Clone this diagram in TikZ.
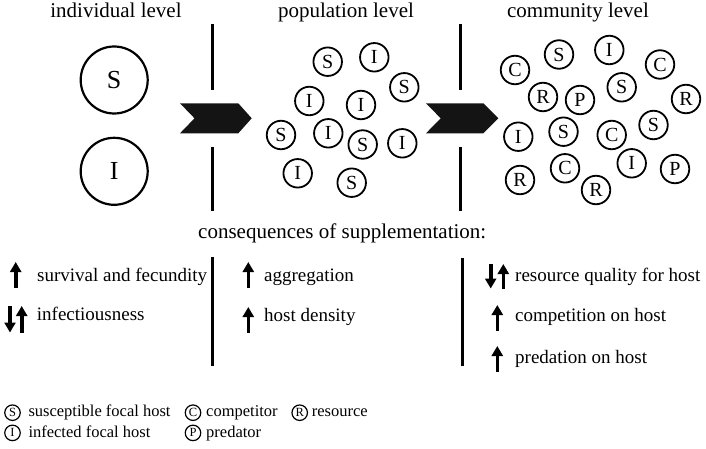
\documentclass[tikz,border=0pt]{standalone}
\usepackage{fontspec}
\setmainfont{Liberation Serif}
\usetikzlibrary{arrows.meta}
\begin{document}
\begin{tikzpicture}[x=1pt,y=-1pt,
  title/.style={anchor=base,font=\fontsize{21}{24}\selectfont,inner sep=0},
  body/.style={anchor=base west,font=\fontsize{19}{22}\selectfont,inner sep=0},
  leg/.style={anchor=base west,font=\fontsize{16.5}{19}\selectfont,inner sep=0},
  bigc/.style={circle,draw,line width=2.2pt,minimum size=67pt,inner sep=0,font=\fontsize{26}{28}\selectfont},
  smc/.style={circle,draw,line width=1.8pt,minimum size=28.5pt,inner sep=0,font=\fontsize{20}{22}\selectfont},
  legc/.style={circle,draw,line width=1.2pt,minimum size=15.5pt,inner sep=0,font=\fontsize{12.5}{14}\selectfont},
  sep/.style={line width=3pt},
  upar/.style={line width=3.6pt,-{Triangle[width=11pt,length=10pt]}},
  chev/.style={fill=black!92}]
\useasboundingbox (0,0) rectangle (706,449);

% titles
\node[title] (t1) at (116,17.5) {individual level};
\node[title] (t2) at (346,17.5) {population level};
\node[title] (t3) at (578,17.5) {community level};

% separators (top)
\draw[sep] (212.3,24) -- (212.3,90);
\draw[sep] (212.3,147) -- (212.3,211);
\draw[sep] (460.5,24) -- (460.5,90);
\draw[sep] (460.5,147) -- (460.5,211);

% chevrons
\fill[chev] (180,103.3) -- (238.3,103.3) -- (251.7,118.3) -- (238.3,133.3) -- (180,133.3) -- (194.5,118.3) -- cycle;
\fill[chev] (426,103.3) -- (483.3,103.3) -- (498.3,118.3) -- (483.3,133.3) -- (426,133.3) -- (440.7,118.3) -- cycle;

% individual level
\node[bigc] (bs) at (114.2,80) {S};
\node[bigc] (bi) at (114.2,171.3) {I};

% population level
\node[smc] (p1) at (327.7,61.7) {S};
\node[smc] (p2) at (374.3,57.3) {I};
\node[smc] (p3) at (404.3,87.3) {S};
\node[smc] (p4) at (309.3,101) {I};
\node[smc] (p5) at (361,105) {I};
\node[smc] (p6) at (281,135) {S};
\node[smc] (p7) at (328.3,133.3) {I};
\node[smc] (p8) at (362.7,144.5) {S};
\node[smc] (p9) at (402.3,143.3) {I};
\node[smc] (p10) at (297.7,173.3) {I};
\node[smc] (p11) at (351.7,182.7) {S};

% community level
\node[smc] (c1) at (515,70) {C};
\node[smc] (c2) at (559,54.5) {S};
\node[smc] (c3) at (609.3,50) {I};
\node[smc] (c4) at (660,64.5) {C};
\node[smc] (c5) at (543,97) {R};
\node[smc] (c6) at (580,100) {P};
\node[smc] (c7) at (621.7,87.3) {S};
\node[smc] (c8) at (686,99) {R};
\node[smc] (c9) at (518.3,136.7) {I};
\node[smc] (c10) at (563.5,131.7) {S};
\node[smc] (c11) at (611.7,135) {C};
\node[smc] (c12) at (653.5,125) {S};
\node[smc] (c13) at (520,180) {R};
\node[smc] (c14) at (565,168.3) {C};
\node[smc] (c15) at (631.7,163.3) {I};
\node[smc] (c16) at (675,169) {P};
\node[smc] (c17) at (596,190) {R};

% consequences
\node[title,anchor=base west] (cons) at (198,238) {consequences of supplementation:};

\draw[sep] (212.3,257.3) -- (212.3,366);
\draw[sep] (462.7,258) -- (462.7,366);

% left column
\coordinate (a1b) at (15.7,288); \coordinate (a1t) at (15.7,262);
\draw[upar] (a1b) -- (a1t);
\node[body] (l1) at (37,281) {survival and fecundity};
\coordinate (a2b) at (10,306); \coordinate (a2t) at (10,332.5);
\draw[upar] (a2b) -- (a2t);
\coordinate (a3b) at (21.7,332.5); \coordinate (a3t) at (21.7,306);
\draw[upar] (a3b) -- (a3t);
\node[body] (l2) at (36.7,320.7) {infectiousness};

% middle column
\coordinate (m1b) at (248.3,288); \coordinate (m1t) at (248.3,262);
\draw[upar] (m1b) -- (m1t);
\node[body] (mm1) at (264,281) {aggregation};
\coordinate (m2b) at (248.3,333); \coordinate (m2t) at (248.3,307);
\draw[upar] (m2b) -- (m2t);
\node[body] (mm2) at (264,321) {host density};

% right column
\coordinate (r1b) at (490.7,264); \coordinate (r1t) at (490.7,288.5);
\draw[upar] (r1b) -- (r1t);
\coordinate (r2b) at (503.3,288.5); \coordinate (r2t) at (503.3,264);
\draw[upar] (r2b) -- (r2t);
\node[body] (rr1) at (515,281) {resource quality for host};
\coordinate (r3b) at (497.3,331); \coordinate (r3t) at (497.3,305);
\draw[upar] (r3b) -- (r3t);
\node[body] (rr2) at (515,321.7) {competition on host};
\coordinate (r4b) at (497.3,372); \coordinate (r4t) at (497.3,346);
\draw[upar] (r4b) -- (r4t);
\node[body] (rr3) at (515,363.3) {predation on host};

% legend
\node[legc] (ls) at (12.5,412.7) {S};
\node[leg] (lst) at (28.3,416.9) {susceptible focal host};
\node[legc] (li) at (12.5,432.9) {I};
\node[leg] (lit) at (28.3,437.1) {infected focal host};
\node[legc] (lc) at (193,412.7) {C};
\node[leg] (lct) at (206,416.9) {competitor};
\node[legc] (lp) at (193,432.9) {P};
\node[leg] (lpt) at (206,437.1) {predator};
\node[legc] (lr) at (299.7,412.7) {R};
\node[leg] (lrt) at (311.7,416.9) {resource};
\end{tikzpicture}
\end{document}
